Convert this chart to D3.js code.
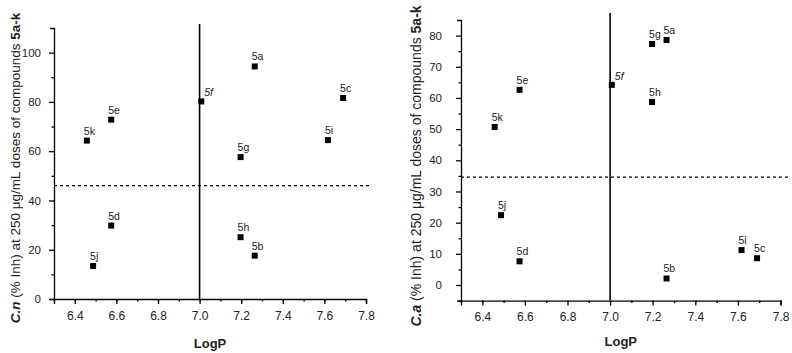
<!DOCTYPE html>
<html>
<head>
<meta charset="utf-8">
<script src="https://cdn.jsdelivr.net/npm/d3@7"></script>
<style>
  body { margin: 0; background: #fff; }
  svg { font-family: "Liberation Sans", Arial, sans-serif; }
  .tick text { fill: #222; }
</style>
</head>
<body>
<div id="chart"></div>
<script>
//compound names and logP, shared by both panels
var compounds = ["5a", "5b", "5c", "5d", "5e", "5f", "5g", "5h", "5i", "5j", "5k"];
var logP = [7.265, 7.265, 7.69, 6.575, 6.575, 7.008, 7.197, 7.197, 7.617, 6.488, 6.458];

//% inhibition, C. neoformans (left) and C. albicans (right)
var inhCn = [94.4, 17.6, 81.6, 29.8, 72.8, 80.2, 57.6, 25.1, 64.5, 13.4, 64.3];
var inhCa = [78.6, 2.1, 8.6, 7.6, 62.6, 64.2, 77.3, 58.7, 11.2, 22.4, 50.7];

//reference lines
var cutCn = 46;
var cutCa = 34.6;
var cutLogP = 7.0;

var xTicks = [6.4, 6.6, 6.8, 7.0, 7.2, 7.4, 7.6, 7.8];
var yTicksCn = [0, 20, 40, 60, 80, 100];
var yTicksCa = [0, 10, 20, 30, 40, 50, 60, 70, 80];

var width = 792,
  height = 353;

var svg = d3
  .select("#chart")
  .append("svg")
  .attr("width", width)
  .attr("height", height);

//function to draw one panel
var drawPanel = function(opts) {
  var g = svg.append("g");

  var xScale = d3.scaleLinear().domain([6.3, 7.8]).range(opts.xRange);
  var yScale = d3.scaleLinear().domain(opts.yDomain).range(opts.yRange);

  //minor ticks
  g.append("g")
    .attr("transform", "translate(0," + opts.yRange[0] + ")")
    .call(d3.axisBottom(xScale).tickValues(d3.range(6.3, 7.85, 0.1)).tickSize(2.5).tickFormat(""))
    .select(".domain")
    .remove();
  g.append("g")
    .attr("transform", "translate(" + opts.xRange[0] + ",0)")
    .call(d3.axisLeft(yScale).tickValues(opts.yMinor).tickSize(2.5).tickFormat(""))
    .select(".domain")
    .remove();

  //x axis
  var xAxis = g
    .append("g")
    .attr("transform", "translate(0," + opts.yRange[0] + ")")
    .call(
      d3.axisBottom(xScale)
        .tickValues(xTicks)
        .tickFormat(d3.format(".1f"))
        .tickSize(5)
        .tickSizeOuter(5)
        .tickPadding(7)
    );
  xAxis.selectAll("text").style("font-size", "12px");

  //y axis
  var yAxis = g
    .append("g")
    .attr("transform", "translate(" + opts.xRange[0] + ",0)")
    .call(
      d3.axisLeft(yScale)
        .tickValues(opts.yTicks)
        .tickSize(5)
        .tickSizeOuter(4)
        .tickPadding(opts.yPad)
    );
  yAxis.selectAll("text").style("font-size", "11.5px");
  g.selectAll(".domain, .tick line").attr("stroke", "#000").attr("stroke-width", 1.3);

  //dashed horizontal cut-off
  g.append("line")
    .attr("x1", xScale.range()[0])
    .attr("x2", xScale.range()[1] + opts.dashExtra)
    .attr("y1", yScale(opts.cut))
    .attr("y2", yScale(opts.cut))
    .attr("stroke", "#000")
    .attr("stroke-width", 1.2)
    .attr("stroke-dasharray", "3,3");

  //vertical line at logP 7
  g.append("line")
    .attr("x1", xScale(cutLogP))
    .attr("x2", xScale(cutLogP))
    .attr("y1", opts.yRange[1] - opts.vExtra)
    .attr("y2", opts.yRange[0])
    .attr("stroke", "#000")
    .attr("stroke-width", 1.6);

  var points = compounds.map(function(c, i) {
    return { name: c, x: logP[i], y: opts.values[i] };
  });

  //markers
  g.selectAll(".pt")
    .data(points)
    .enter()
    .append("rect")
    .attr("class", "pt")
    .attr("x", function(d) { return xScale(d.x) - 3; })
    .attr("y", function(d) { return yScale(d.y) - 3; })
    .attr("width", 6)
    .attr("height", 6)
    .attr("fill", "#000");

  //point labels
  g.selectAll(".lbl")
    .data(points)
    .enter()
    .append("text")
    .attr("class", "lbl")
    .attr("x", function(d) { return xScale(d.x) + (d.name == "5f" ? 3 : -3); })
    .attr("y", function(d) { return yScale(d.y) - (d.name == "5f" ? 5 : 6); })
    .style("font-size", "10.5px")
    .style("fill", "#222")
    .style("font-style", function(d) { return d.name == "5f" ? "italic" : "normal"; })
    .text(function(d) { return d.name; });

  //x title
  g.append("text")
    .attr("x", (opts.xRange[0] + opts.xRange[1]) / 2)
    .attr("y", opts.xTitleY)
    .attr("text-anchor", "middle")
    .style("font-size", "13px")
    .style("font-weight", "bold")
    .style("fill", "#222")
    .text("LogP");

  //y title
  var yt = g
    .append("text")
    .attr("transform", "translate(" + opts.yTitleX + "," + opts.yTitleY + ") rotate(-90)")
    .attr("text-anchor", "middle")
    .style("font-size", opts.yTitleSize)
    .style("fill", "#222");
  yt.append("tspan").style("font-weight", "bold").style("font-style", "italic").text(opts.species);
  yt.append("tspan").text(" (% Inh) at 250 μg/mL doses of compounds ");
  yt.append("tspan").style("font-weight", "bold").text("5a-k");
};

drawPanel({
  xRange: [54, 366],
  yRange: [299, 28],
  yDomain: [0, 110],
  yTicks: yTicksCn,
  yMinor: d3.range(10, 110, 20),
  yPad: 8,
  values: inhCn,
  cut: cutCn,
  dashExtra: 4,
  vExtra: 4,
  xTitleY: 348,
  yTitleX: 20,
  yTitleY: 168,
  yTitleSize: "13.5px",
  species: "C.n"
});

drawPanel({
  xRange: [461, 780.5],
  yRange: [300.6, 20],
  yDomain: [-5, 85],
  yTicks: yTicksCa,
  yMinor: d3.range(-5, 85, 10),
  yPad: 14,
  values: inhCa,
  cut: cutCa,
  dashExtra: 10,
  vExtra: 7,
  xTitleY: 346,
  yTitleX: 421,
  yTitleY: 166,
  yTitleSize: "14px",
  species: "C.a"
});
</script>
</body>
</html>
